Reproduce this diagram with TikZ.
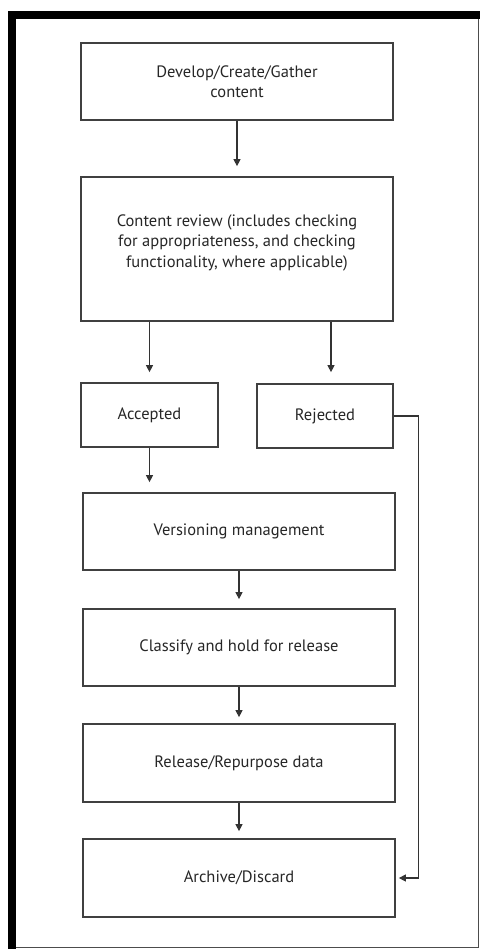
\documentclass[tikz,border=0pt]{standalone}
\usepackage{fontspec}
\setmainfont{PT Sans}
\usetikzlibrary{arrows.meta}
\tikzset{
	stage/.style={
			draw=black!75, line width=1.7pt, text=black!85,
			align=center, inner sep=0pt,
			font=\fontsize{16.5}{20.5}\selectfont
		},
	flow/.style={
			-{Triangle[length=7pt,width=7pt]}, draw=black!80, line width=1.1pt
		}
}

\begin{document}
\begin{tikzpicture}[x=1pt,y=-1pt]

			\useasboundingbox (0,0) rectangle (480,949);

			% Frame
			\fill[black] (8,11) rectangle (16,949);
			\fill[black] (8,11) rectangle (480,19);
			\draw[black!70, line width=1pt] (16,947) -| (478,19);

			% Stages
			\node[stage, minimum width=312pt, minimum height=77pt] (dev) at (237,81.5) {Develop/Create/Gather\\content};
			\node[stage, minimum width=312pt, minimum height=144pt] (rev) at (237,249) {Content review (includes checking\\for appropriateness, and checking\\functionality, where applicable)\\[-4pt]};
			\node[stage, minimum width=137pt, minimum height=64pt] (acc) at (149.5,415) {Accepted};
			\node[stage, minimum width=136pt, minimum height=64pt] (rej) at (325,416) {Rejected};
			\node[stage, minimum width=312pt, minimum height=77pt] (ver) at (239,531.5) {Versioning management};
			\node[stage, minimum width=312pt, minimum height=77pt] (cla) at (239,647.5) {Classify and hold for release};
			\node[stage, minimum width=312pt, minimum height=78pt] (rel) at (239,763) {Release/Repurpose data};
			\node[stage, minimum width=312pt, minimum height=78pt] (arc) at (239,878) {Archive/Discard};

			% Connectors
			\draw[flow, shorten >=10pt] (dev) -- (rev);
			\draw[flow, shorten >=10pt] (acc.north |- rev.south) -- (acc.north);
			\draw[flow, shorten >=11pt] ([xshift=6pt]rej.north |- rev.south) -- ([xshift=6pt]rej.north);
			\draw[flow, shorten >=10pt] (acc.south) -- (acc.south |- ver.north);
			\draw[flow, shorten >=9pt] (ver) -- (cla);
			\draw[flow, shorten >=6pt] (cla) -- (rel);
			\draw[flow, shorten >=7pt] (rel) -- (arc);
			\draw[flow, shorten >=3pt] (rej.east) -- ++(25,0) |- (arc.east);
		\end{tikzpicture}
\end{document}
